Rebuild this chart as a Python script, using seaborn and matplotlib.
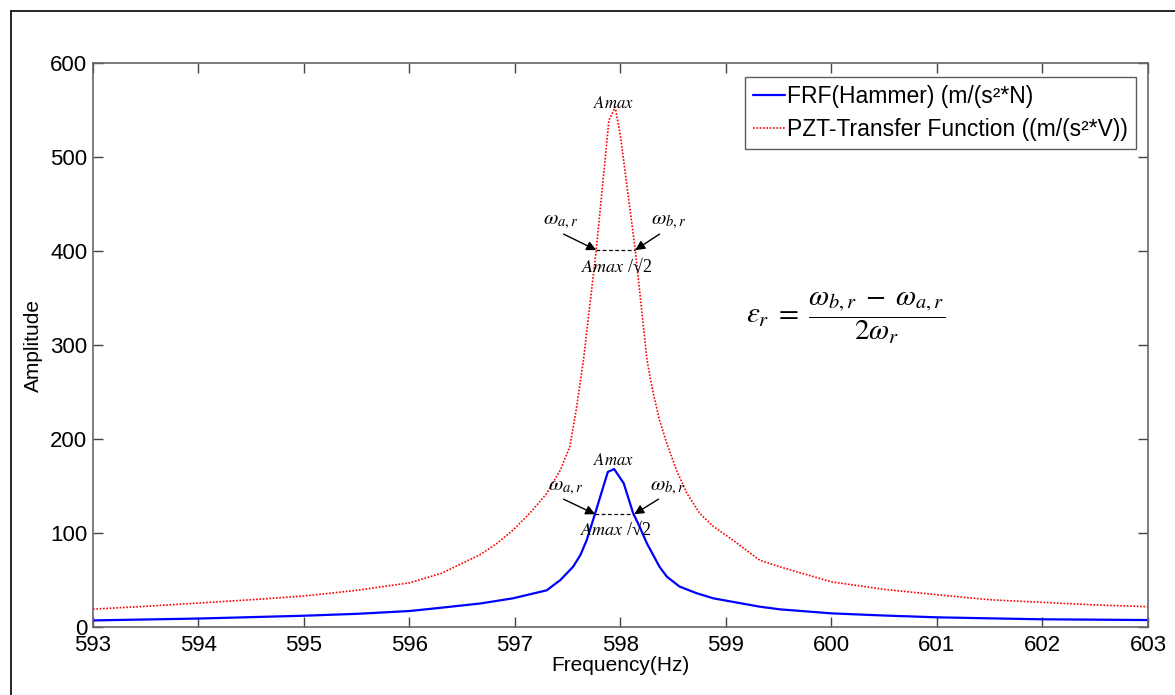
import matplotlib
matplotlib.use("Agg")
import matplotlib.pyplot as plt
import seaborn as sns
import pandas as pd
from matplotlib.lines import Line2D

# ---------------- data ----------------
pzt_freq = [593, 593.5, 594, 594.5, 595, 595.5, 596, 596.3, 596.67, 596.83,
            596.98, 597.14, 597.3, 597.43, 597.52, 597.58, 597.65, 597.77,
            597.89, 597.95, 598.0, 598.14, 598.25, 598.28, 598.31, 598.37,
            598.44, 598.53, 598.63, 598.75, 598.88, 599.07, 599.32, 599.51,
            600.0, 600.5, 601.03, 601.5, 602.04, 602.5, 603]
pzt_amp = [19, 22, 25.5, 29, 33, 39, 47, 57, 77, 89,
           103, 121, 142, 167, 192, 231, 285, 401,
           539, 553, 522, 401, 285, 266, 249, 220,
           195, 167, 142, 121, 107, 92, 71, 64,
           48, 40, 34, 29, 26, 23.5, 21.6]

frf_freq = [593, 594, 595, 595.5, 596, 596.3, 596.67, 596.98, 597.3, 597.43,
            597.55, 597.62, 597.68, 597.76, 597.88, 597.94, 598.03, 598.12,
            598.18, 598.25, 598.31, 598.37, 598.44, 598.56, 598.72, 598.88,
            599.32, 599.51, 600, 600.5, 601, 601.5, 602, 602.5, 603]
frf_amp = [7, 9, 12, 14, 17, 20.5, 25, 30.5, 39, 50,
           64, 76.6, 92.5, 121, 165, 168, 153, 121,
           107, 89, 76.6, 64, 53.5, 43, 36, 30.5,
           21.6, 18.8, 14.5, 12.2, 10.3, 9.2, 8.2, 7.8, 7.4]

series_labels = ["FRF(Hammer) (m/(s²*N)", "PZT-Transfer Function ((m/(s²*V))"]
x_ticks = [593, 594, 595, 596, 597, 598, 599, 600, 601, 602, 603]
y_ticks = [0, 100, 200, 300, 400, 500, 600]

# half-power levels and band edges
pzt_half = 401
pzt_band = (597.77, 598.14)
frf_half = 120
frf_band = (597.76, 598.13)

frf_df = pd.DataFrame({"Frequency": frf_freq, "Amplitude": frf_amp})
pzt_df = pd.DataFrame({"Frequency": pzt_freq, "Amplitude": pzt_amp})

# ---------------- styling ----------------
sns.set_style("ticks")
plt.rcParams["font.family"] = ["Liberation Sans", "DejaVu Sans"]
plt.rcParams["mathtext.fontset"] = "stix"
plt.rcParams["text.color"] = "black"
plt.rcParams["axes.labelcolor"] = "black"
plt.rcParams["xtick.color"] = "black"
plt.rcParams["ytick.color"] = "black"

fig = plt.figure(figsize=(11.75, 6.95), dpi=100)
ax = fig.add_axes([93 / 1175, 1 - 627 / 695, (1148 - 93) / 1175, (627 - 63) / 695])

sns.lineplot(data=frf_df, x="Frequency", y="Amplitude", ax=ax, color="#0000ff",
             linewidth=1.6, label=series_labels[0])
sns.lineplot(data=pzt_df, x="Frequency", y="Amplitude", ax=ax, color="#ff0000",
             linewidth=1.2, linestyle=(0, (1, 1)), label=series_labels[1])

ax.set_xlim(593, 603)
ax.set_ylim(0, 600)
ax.set_xticks(x_ticks)
ax.set_yticks(y_ticks)
ax.tick_params(direction="in", top=True, right=True, length=7, width=1,
               color="#444444", labelsize=16)
ax.tick_params(axis="x", pad=6)
ax.tick_params(axis="y", pad=4)
for s in ax.spines.values():
    s.set_visible(True)
    s.set_color("#666666")
    s.set_linewidth(1.2)
ax.set_xlabel("Frequency(Hz)", fontsize=15, labelpad=0)
ax.set_ylabel("Amplitude", fontsize=15, labelpad=5)

leg = ax.legend(loc="upper right", bbox_to_anchor=(0.989, 0.975), borderaxespad=0,
                fontsize=16.5, frameon=True, fancybox=False, handlelength=1.4,
                handletextpad=0.1, borderpad=0.35, labelspacing=0.45)
leg.get_frame().set_edgecolor("#333333")
leg.get_frame().set_linewidth(1.0)

# ---------------- annotations ----------------
tfs = 12
serif = ["Liberation Serif", "DejaVu Serif"]
arrow = dict(arrowstyle="-|>", color="black", lw=1.0, mutation_scale=14,
             shrinkA=0, shrinkB=0)

# PZT peak
ax.plot(list(pzt_band), [pzt_half, pzt_half], color="black", lw=0.9, ls=(0, (3, 2)))
ax.text(597.93, 557, r"$Amax$", fontsize=tfs, ha="center", va="center")
ax.text(597.96, 383, r"$Amax$ /√2", fontsize=tfs + 1, ha="center", va="center",
        family=serif)
ax.text(597.43, 431, r"$\omega_{a,r}$", fontsize=tfs + 3, ha="center", va="center")
ax.text(598.46, 431, r"$\omega_{b,r}$", fontsize=tfs + 3, ha="center", va="center")
ax.annotate("", xy=(pzt_band[0], pzt_half), xytext=(597.46, 418), arrowprops=arrow)
ax.annotate("", xy=(pzt_band[1], pzt_half), xytext=(598.37, 418), arrowprops=arrow)

# FRF peak
ax.plot(list(frf_band), [frf_half, frf_half], color="black", lw=0.9, ls=(0, (3, 2)))
ax.text(597.93, 178, r"$Amax$", fontsize=tfs, ha="center", va="center")
ax.text(597.95, 103, r"$Amax$ /√2", fontsize=tfs + 1, ha="center", va="center",
        family=serif)
ax.text(597.48, 148, r"$\omega_{a,r}$", fontsize=tfs + 3, ha="center", va="center")
ax.text(598.45, 148, r"$\omega_{b,r}$", fontsize=tfs + 3, ha="center", va="center")
ax.annotate("", xy=(frf_band[0], frf_half), xytext=(597.46, 136), arrowprops=arrow)
ax.annotate("", xy=(frf_band[1], frf_half), xytext=(598.36, 136), arrowprops=arrow)

# damping formula
ax.text(600.13, 329,
        r"$\varepsilon_r \;=\; \dfrac{\omega_{b,r} \;-\; \omega_{a,r}}{2\omega_r}$",
        fontsize=21, ha="center", va="center")

# outer frame (top and left visible in the reference)
fig.add_artist(Line2D([11 / 1175, 11 / 1175], [1 - 11 / 695, 0], transform=fig.transFigure,
                      color="black", lw=1.2))
fig.add_artist(Line2D([11 / 1175, 1], [1 - 11 / 695, 1 - 11 / 695], transform=fig.transFigure,
                      color="black", lw=1.2))

fig.savefig("out.png", dpi=100, facecolor="white")
